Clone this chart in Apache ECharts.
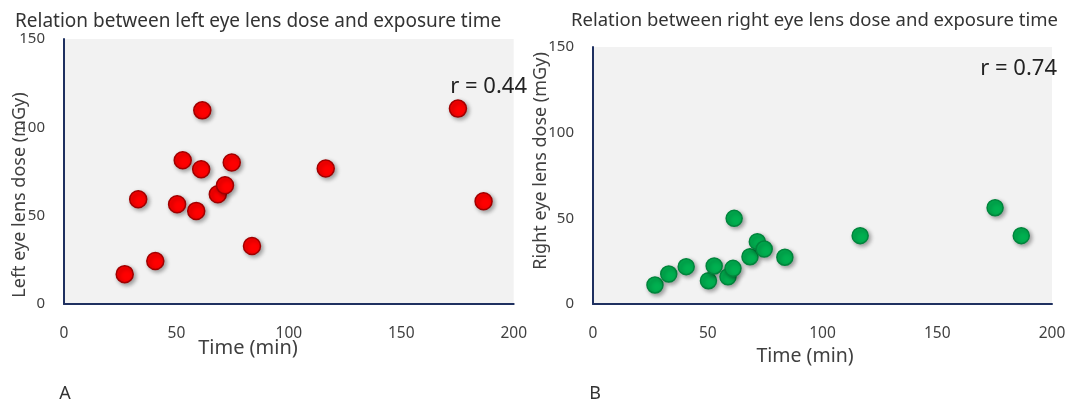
<!DOCTYPE html>
<html>
<head>
<meta charset="utf-8">
<script src="https://cdn.jsdelivr.net/npm/echarts@6/dist/echarts.min.js"></script>
<style>
  body { margin: 0; background: #fff; }
  #wrap { width: 1072px; height: 408px; position: relative; }
  #left-eye { position: absolute; left: 0; top: 0; width: 530px; height: 408px; }
  #right-eye { position: absolute; left: 530px; top: 0; width: 542px; height: 408px; }
</style>
</head>
<body>
<div id="wrap">
  <div id="left-eye"></div>
  <div id="right-eye"></div>
</div>
<script>
// exposure time (min), same patients in both panels
var timeMin = [27, 33, 40.6, 50.3, 52.8, 58.8, 61, 61.5, 68.4, 71.6, 74.6, 83.6, 116.4, 175.2, 186.6];
// eye lens dose (mGy)
var leftDose = [16.9, 59.3, 24.3, 56.5, 81.4, 52.7, 76.3, 109.6, 62.1, 67.2, 80.1, 32.8, 76.7, 110.6, 58.2];
var rightDose = [11.1, 17.5, 21.8, 13.6, 22.2, 15.9, 20.8, 50.0, 27.6, 36.4, 32.1, 27.3, 39.9, 56.2, 39.9];
var xTicks = [0, 50, 100, 150, 200];
var yTicks = [0, 50, 100, 150];

var FONT = 'Noto Sans';

leftEyeChart()
rightEyeChart()

function pairs(xs, ys) {
  return xs.map(function (x, i) { return [x, ys[i]]; });
}

function baseAxes() {
  var axisLine = { show: true, lineStyle: { color: '#1f3060', width: 2 } };
  return {
    xAxis: {
      type: 'value',
      min: xTicks[0],
      max: xTicks[xTicks.length - 1],
      interval: xTicks[1] - xTicks[0],
      axisLine: axisLine,
      axisTick: { show: false },
      splitLine: { show: false },
      axisLabel: { margin: 22, color: '#404040', fontSize: 15.5, fontFamily: FONT }
    },
    yAxis: {
      type: 'value',
      min: yTicks[0],
      max: yTicks[yTicks.length - 1],
      interval: yTicks[1] - yTicks[0],
      axisLine: axisLine,
      axisTick: { show: false },
      splitLine: { show: false },
      axisLabel: { margin: 19, color: '#404040', fontSize: 15, fontFamily: FONT }
    }
  };
}

function textEl(txt, x, y, size, color, align, rot) {
  return {
    type: 'text',
    x: x,
    y: y,
    rotation: rot || 0,
    style: {
      text: txt,
      fill: color,
      fontSize: size,
      fontFamily: FONT,
      align: align || 'center',
      verticalAlign: 'middle'
    }
  };
}

//左眼
function leftEyeChart() {
  var myChart = echarts.init(document.getElementById('left-eye'));
  var axes = baseAxes();

  var option = {
    animation: false,
    grid: {
      left: 64, top: 39, width: 451, height: 265,
      show: true, backgroundColor: '#f2f2f2', borderWidth: 0
    },
    xAxis: axes.xAxis,
    yAxis: axes.yAxis,
    graphic: [
      textEl('Relation between left eye lens dose and exposure time', 15, 22, 19, '#333', 'left'),
      textEl('r = 0.44', 527, 87, 22, '#222', 'right'),
      textEl('Left eye lens dose (mGy)', 20, 195, 18, '#404040', 'center', Math.PI / 2),
      textEl('Time (min)', 248, 348, 20, '#404040'),
      textEl('A', 65, 394, 18, '#333')
    ],
    series: [{
      name: 'Left eye',
      type: 'scatter',
      symbolSize: 17,
      data: pairs(timeMin, leftDose),
      itemStyle: {
        color: '#ff0000',
        borderColor: '#a00000',
        borderWidth: 1.5,
        opacity: 1,
        shadowBlur: 4,
        shadowColor: 'rgba(0,0,0,0.35)',
        shadowOffsetX: 2,
        shadowOffsetY: 2
      }
    }]
  };

  myChart.setOption(option);
}

//右眼
function rightEyeChart() {
  var myChart = echarts.init(document.getElementById('right-eye'));
  var axes = baseAxes();

  var option = {
    animation: false,
    grid: {
      left: 63, top: 47, width: 459, height: 257,
      show: true, backgroundColor: '#f2f2f2', borderWidth: 0
    },
    xAxis: axes.xAxis,
    yAxis: axes.yAxis,
    graphic: [
      textEl('Relation between right eye lens dose and exposure time', 41, 21, 18.5, '#333', 'left'),
      textEl('r = 0.74', 527, 69, 22, '#222', 'right'),
      textEl('Right eye lens dose (mGy)', 11, 161, 18, '#404040', 'center', Math.PI / 2),
      textEl('Time (min)', 275, 356, 19.5, '#404040'),
      textEl('B', 65, 394, 18, '#333')
    ],
    series: [{
      name: 'Right eye',
      type: 'scatter',
      symbolSize: 16,
      data: pairs(timeMin, rightDose),
      itemStyle: {
        color: '#00b050',
        borderColor: '#00853c',
        borderWidth: 1.5,
        opacity: 1,
        shadowBlur: 4,
        shadowColor: 'rgba(0,0,0,0.35)',
        shadowOffsetX: 2,
        shadowOffsetY: 2
      }
    }]
  };

  myChart.setOption(option);
}
</script>
</body>
</html>
